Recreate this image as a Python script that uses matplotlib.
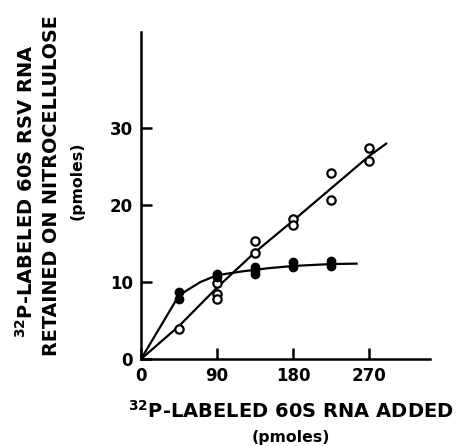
import matplotlib.pyplot as plt

plt.rcParams['font.family'] = 'DejaVu Sans'
plt.rcParams['font.weight'] = 'bold'
plt.rcParams['mathtext.default'] = 'bf'

# open circles (measured points)
open_x = [45, 90, 90, 90, 135, 135, 180, 180, 225, 225, 270, 270]
open_y = [3.9, 9.9, 8.5, 7.8, 15.3, 13.8, 18.2, 17.4, 24.2, 20.7, 27.4, 25.8]
# filled circles
filled_x = [45, 45, 90, 90, 135, 135, 135, 180, 180, 225, 225]
filled_y = [8.7, 7.8, 11.1, 10.7, 12.0, 11.5, 11.1, 12.6, 11.9, 12.7, 12.1]

# hand-drawn fit curves
open_fit_x = [0, 45, 90, 135, 180, 225, 270, 290]
open_fit_y = [0, 4.3, 9.3, 13.9, 18.0, 22.2, 26.4, 28.0]
filled_fit_x = [0, 45, 70, 90, 120, 150, 180, 225, 255]
filled_fit_y = [0, 8.3, 10.0, 10.9, 11.4, 11.8, 12.1, 12.35, 12.4]

x_ticks = [0, 90, 180, 270]
y_ticks = [0, 10, 20, 30]

fig = plt.figure(figsize=(4.64, 4.46), dpi=100)
ax = fig.add_axes([0.304, 0.195, 0.623, 0.733])

ax.plot(open_fit_x, open_fit_y, color='black', lw=1.6, zorder=2)
ax.plot(filled_fit_x, filled_fit_y, color='black', lw=1.6, zorder=2)
ax.plot(open_x, open_y, 'o', ms=6, mfc='white', mec='black', mew=1.6, zorder=3)
ax.plot(filled_x, filled_y, 'o', ms=6, mfc='black', mec='black', mew=1.0, zorder=4)

ax.set_xlim(0, 342)
ax.set_ylim(0, 42.5)
ax.set_xticks(x_ticks)
ax.set_yticks(y_ticks)
ax.tick_params(direction='in', length=8, width=1.8, labelsize=12, pad=6)
for lab in ax.get_xticklabels() + ax.get_yticklabels():
    lab.set_fontweight('bold')
for s in ['top', 'right']:
    ax.spines[s].set_visible(False)
for s in ['left', 'bottom']:
    ax.spines[s].set_linewidth(1.8)

fig.text(0.627, 0.078, r'$^{32}$P-LABELED 60S RNA ADDED', ha='center', va='center',
         fontsize=14, fontweight='bold')
fig.text(0.627, 0.02, '(pmoles)', ha='center', va='center', fontsize=11.3, fontweight='bold')

fig.text(0.056, 0.571, r'$^{32}$P-LABELED 60S RSV RNA', rotation=90, ha='center', va='center',
         fontsize=14, fontweight='bold')
fig.text(0.110, 0.585, 'RETAINED ON NITROCELLULOSE', rotation=90, ha='center', va='center',
         fontsize=13.8, fontweight='bold')
fig.text(0.166, 0.594, '(pmoles)', rotation=90, ha='center', va='center',
         fontsize=11.3, fontweight='bold')

fig.savefig('out.png', dpi=100)
